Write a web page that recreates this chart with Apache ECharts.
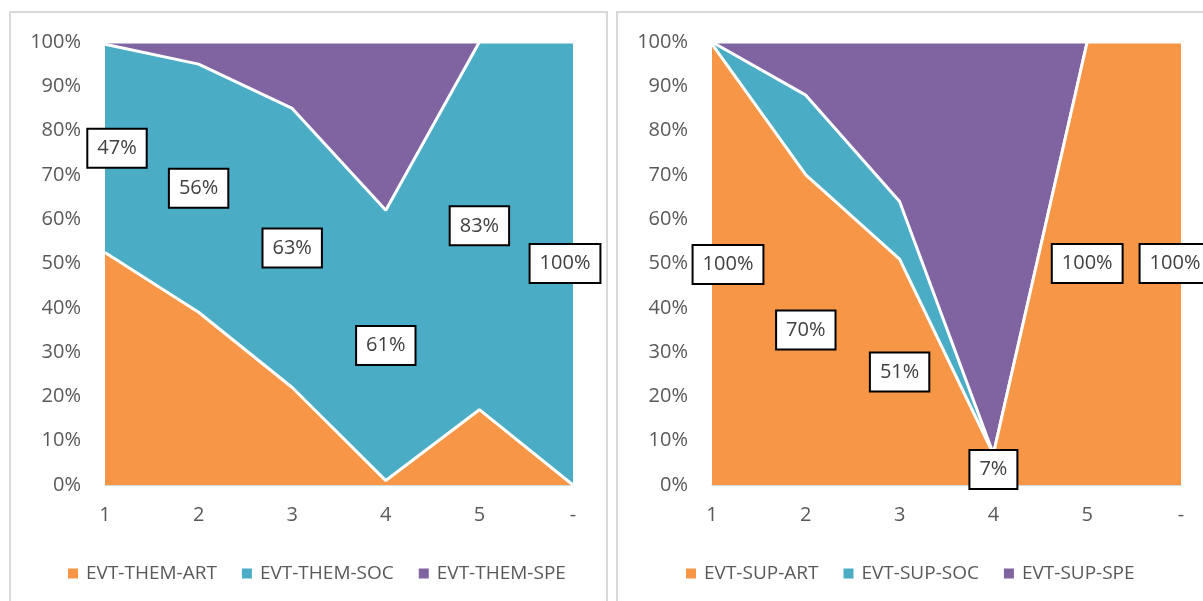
<!DOCTYPE html>
<html>
<head>
<meta charset="utf-8">
<script src="https://cdn.jsdelivr.net/npm/echarts@6/dist/echarts.min.js"></script>
<style>
  html, body { margin: 0; padding: 0; background: #fff; }
  #chart { width: 1203px; height: 601px; }
</style>
</head>
<body>
<div id="chart"></div>
<script>
const categories = ['1', '2', '3', '4', '5', '-']

// left panel: EVT-THEM-*
const themNames = ['EVT-THEM-ART', 'EVT-THEM-SOC', 'EVT-THEM-SPE']
const themArt = [52.5, 39, 22, 1, 17, 0]
const themSoc = [47, 56, 63, 61, 83, 100]
const themSpe = [0.5, 5, 15, 38, 0, 0]

// right panel: EVT-SUP-*
const supNames = ['EVT-SUP-ART', 'EVT-SUP-SOC', 'EVT-SUP-SPE']
const supArt = [99.5, 70, 51, 7, 100, 100]
const supSoc = [0.5, 18, 13, 0, 0, 0]
const supSpe = [0, 12, 36, 93, 0, 0]

const colors = ['#F79646', '#4BACC6', '#8064A2']
const font = "'Open Sans', 'Liberation Sans', sans-serif"
const textColor = '#595959'
const gridColor = '#D9D9D9'

const chart = echarts.init(document.getElementById('chart'))

const xAxisFor = (gridIndex) => ({
  type: 'category',
  gridIndex,
  data: categories,
  boundaryGap: false,
  axisLine: { lineStyle: { color: gridColor, width: 1.5 } },
  axisTick: { show: false },
  axisLabel: { color: textColor, fontSize: 20, fontFamily: font, margin: 20 },
})

const yAxisFor = (gridIndex) => ({
  type: 'value',
  gridIndex,
  min: 0,
  max: 100,
  interval: 10,
  axisLine: { show: false },
  axisTick: { show: false },
  splitLine: { lineStyle: { color: gridColor, width: 1 } },
  axisLabel: {
    color: textColor,
    fontSize: 20,
    fontFamily: font,
    margin: 24,
    formatter: '{value}%',
  },
})

const areaSeries = (name, data, idx, gridIndex) => ({
  name,
  type: 'line',
  stack: 'total' + gridIndex,
  xAxisIndex: gridIndex,
  yAxisIndex: gridIndex,
  data,
  symbol: 'none',
  z: 5 - idx,
  color: colors[idx],
  lineStyle: { color: '#fff', width: 3 },
  areaStyle: { color: colors[idx], opacity: 1 },
  emphasis: { disabled: true },
})

// label boxes sit in the middle of the labelled band
const labelSeries = (below, values, gridIndex, offsets) => ({
  type: 'scatter',
  xAxisIndex: gridIndex,
  yAxisIndex: gridIndex,
  symbolSize: 1,
  itemStyle: { color: 'rgba(0,0,0,0)', opacity: 1 },
  z: 10,
  data: values.map((v, i) => ({
    value: [i, below[i] + v / 2],
    label: { offset: [offsets[i] || 0, 0] },
  })),
  label: {
    show: true,
    position: 'inside',
    formatter: (p) => Math.round(values[p.dataIndex]) + '%',
    color: '#404040',
    fontSize: 20,
    fontFamily: font,
    backgroundColor: '#fff',
    borderColor: '#000',
    borderWidth: 2,
    padding: [9, 9, 8, 9],
  },
  emphasis: { disabled: true },
})

const legendFor = (names, left) => ({
  data: names,
  left,
  top: 559,
  icon: 'rect',
  itemWidth: 10,
  itemHeight: 10,
  itemGap: 25,
  textStyle: {
    color: textColor,
    fontSize: 19,
    fontFamily: font,
    padding: [0, 0, 0, 3],
  },
})

const option = {
  animation: false,
  graphic: [
    {
      type: 'rect',
      shape: { x: 10, y: 12, width: 597, height: 640 },
      style: { fill: 'none', stroke: gridColor, lineWidth: 2 },
    },
    {
      type: 'rect',
      shape: { x: 617, y: 12, width: 640, height: 640 },
      style: { fill: 'none', stroke: gridColor, lineWidth: 2 },
    },
  ],
  grid: [
    { left: 105, width: 468, top: 42, height: 443 },
    { left: 712, width: 469, top: 42, height: 443 },
  ],
  xAxis: [xAxisFor(0), xAxisFor(1)],
  yAxis: [yAxisFor(0), yAxisFor(1)],
  legend: [legendFor(themNames, 63), legendFor(supNames, 681)],
  series: [
    areaSeries(themNames[0], themArt, 0, 0),
    areaSeries(themNames[1], themSoc, 1, 0),
    areaSeries(themNames[2], themSpe, 2, 0),
    labelSeries(themArt, themSoc, 0, [12, 0, 0, 0, 0, -8]),
    areaSeries(supNames[0], supArt, 0, 1),
    areaSeries(supNames[1], supSoc, 1, 1),
    areaSeries(supNames[2], supSpe, 2, 1),
    labelSeries(supArt.map(() => 0), supArt, 1, [16, 0, 0, 0, 0, -6]),
  ],
}

chart.setOption(option)
window.addEventListener('resize', () => chart.resize())
</script>
</body>
</html>
